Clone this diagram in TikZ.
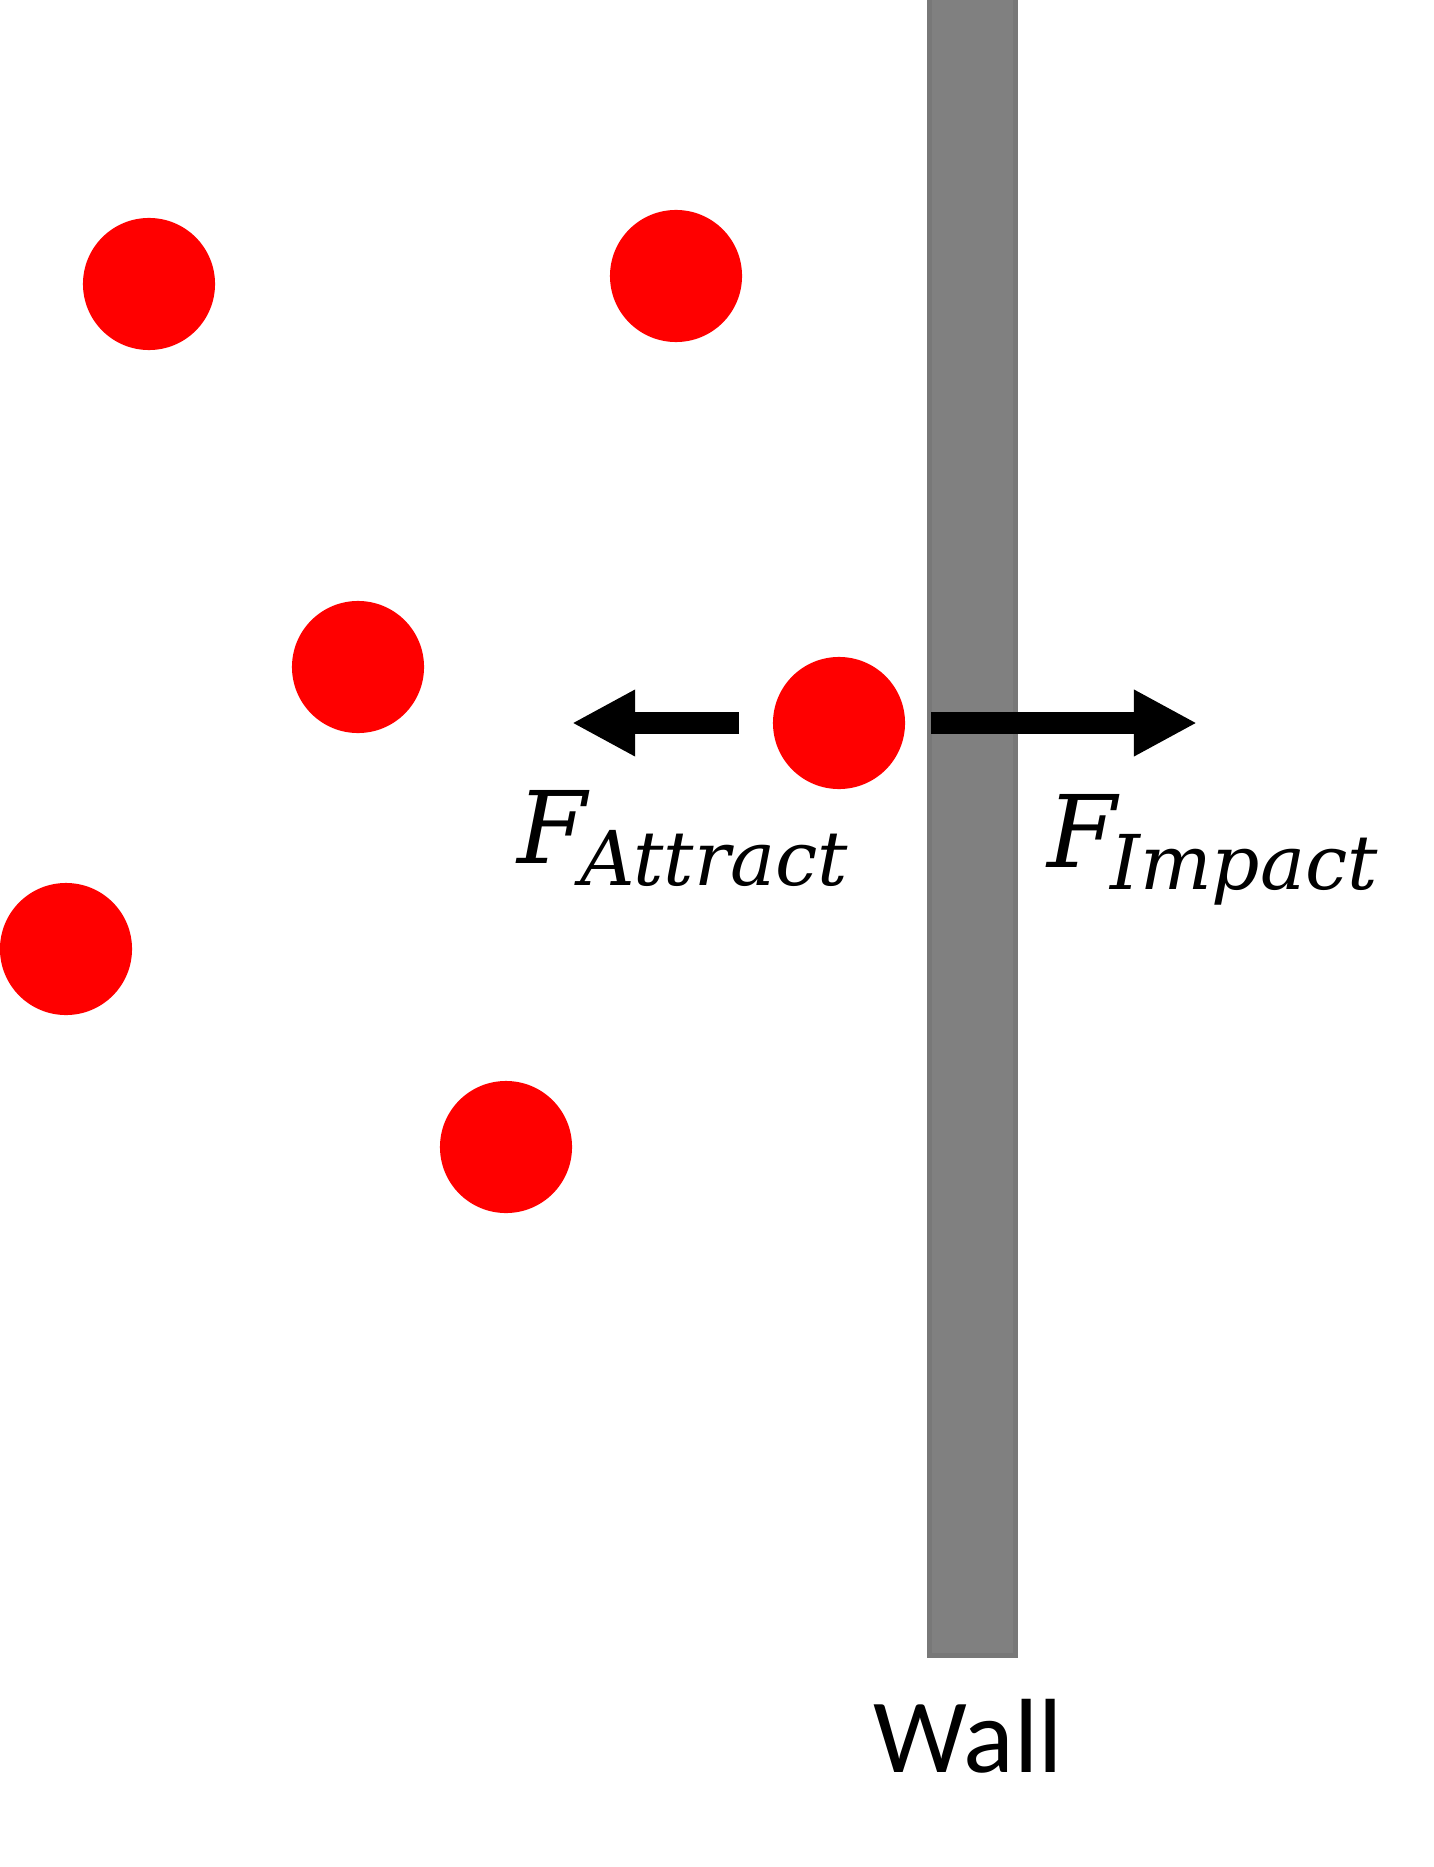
\documentclass[tikz,border=0pt]{standalone}
\usepackage{fontspec}
\usepackage{tikz}
\usetikzlibrary{arrows.meta}
\newfontfamily\wallfont{Carlito}
\newfontfamily\forcefont{DejaVu Serif}
\newcommand{\forcesub}[1]{\kern-2pt\raisebox{-6.5pt}{\fontsize{21.5}{26}\selectfont #1}}
\tikzset{
	particle/.style={circle, fill=red, inner sep=0pt, minimum size=1.32cm},
	force/.style={line width=2.1mm, -{Triangle[length=6.3mm, width=6.2mm]}},
	forcelabel/.style={anchor=base west, inner sep=0pt, font=\forcefont\itshape\fontsize{28.5}{34}\selectfont}
}

\begin{document}
\begin{tikzpicture}[x=0.01cm, y=-0.01cm]
		%%%%% START %%%%%
		
		\useasboundingbox (0, 0) rectangle (1433, 1867);
		
		\draw[line width=0.5mm, draw=black!53, fill=black!50] (929.5, -5) rectangle (1015.5, 1655);
		
		\node[particle] (p1) at (149, 284) {};
		\node[particle] (p2) at (676, 276) {};
		\node[particle] (p3) at (358, 667) {};
		\node[particle] (p4) at (839, 723) {};
		\node[particle] (p5) at (66, 949) {};
		\node[particle] (p6) at (506, 1147) {};
		
		\coordinate (attracttail) at (739, 723);
		\coordinate (attracttip) at (572, 723);
		\coordinate (impacttail) at (931, 723);
		\coordinate (impacttip) at (1197, 723);
		
		\draw[force] (attracttail) -- (attracttip);
		\draw[force] (impacttail) -- (impacttip);
		
		\node[forcelabel] (fattract) at (517, 863) {F\forcesub{Attract}};
		\node[forcelabel] (fimpact) at (1047, 867) {F\forcesub{Impact}};
		
		\node[anchor=base, inner sep=0pt, font=\wallfont\fontsize{30}{36}\selectfont] (wall) at (968, 1772) {Wall};
		
		%%%%% END %%%%%
	\end{tikzpicture}
\end{document}
